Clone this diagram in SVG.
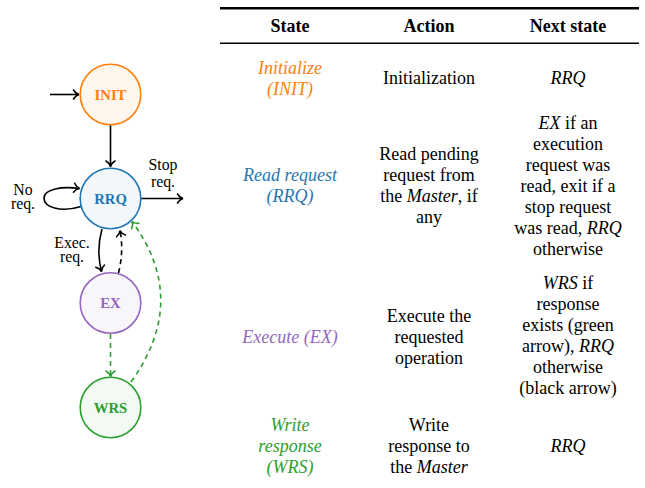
<svg xmlns="http://www.w3.org/2000/svg" width="645" height="488" viewBox="0 0 645 488" font-family="Liberation Serif">
<style>
.t{font-size:18px;text-anchor:middle}
.h{font-size:18px;font-weight:bold;text-anchor:middle}
.e{font-size:15.8px;text-anchor:middle}
.n{font-size:14.7px;font-weight:bold;text-anchor:middle}
.i{font-style:italic}
.ln{fill:none;stroke:#000;stroke-width:1.6}
.gr{fill:none;stroke:#2ca02c;stroke-width:1.6;stroke-dasharray:5 4}
.bd{fill:none;stroke:#000;stroke-width:1.6;stroke-dasharray:5 4}
</style>
<defs>
<marker id="ak" markerUnits="userSpaceOnUse" orient="auto" refX="0" refY="0" markerWidth="12" markerHeight="12" overflow="visible">
<path d="M-5.5,-4.5 C-3.8,-1.6 -1.6,-0.4 0,0 C-1.6,0.4 -3.8,1.6 -5.5,4.5" fill="none" stroke="#000" stroke-width="1.6" stroke-linecap="round"/>
</marker>
<marker id="ag" markerUnits="userSpaceOnUse" orient="auto" refX="0" refY="0" markerWidth="12" markerHeight="12" overflow="visible">
<path d="M-5.5,-4.5 C-3.8,-1.6 -1.6,-0.4 0,0 C-1.6,0.4 -3.8,1.6 -5.5,4.5" fill="none" stroke="#2ca02c" stroke-width="1.6" stroke-linecap="round"/>
</marker>
</defs>

<g id="connectors" font-family="Liberation Serif">
<line class="ln" x1="50" y1="94.5" x2="79" y2="94.5" marker-end="url(#ak)"/>
<line class="ln" x1="110.5" y1="125" x2="110.5" y2="166.5" marker-end="url(#ak)"/>
<line class="ln" x1="141" y1="198.5" x2="183" y2="198.5" marker-end="url(#ak)"/>
<path class="ln" d="M81,206.5 C60,213 44,207 44,198 C44,189 62,186 79.5,188.5" marker-end="url(#ak)"/>
<path class="ln" d="M102,229 Q96,250 101.5,271.5" marker-end="url(#ak)"/>
<path class="bd" d="M118.5,273 Q124,251 120,230.5" marker-end="url(#ak)"/>
<line class="gr" x1="110.5" y1="334" x2="110.5" y2="376.5" marker-end="url(#ag)"/>
<path class="gr" d="M131,382 Q190,300 132,221.5" marker-end="url(#ag)"/>
<text class="e" x="163" y="169.5">Stop</text>
<text class="e" x="163" y="187">req.</text>
<text class="e" x="23" y="194.5">No</text>
<text class="e" x="23" y="208.5">req.</text>
<text class="e" x="72" y="247.5">Exec.</text>
<text class="e" x="72" y="261.5">req.</text>
</g>

<g id="node-init" font-family="Liberation Serif">
<circle cx="110.5" cy="94.5" r="30.3" fill="#fff6ee" stroke="#ff7f0e" stroke-width="1.6"/>
<text class="n" x="110.5" y="99.7" fill="#ff7f0e">INIT</text>
</g>
<g id="node-rrq" font-family="Liberation Serif">
<circle cx="110.5" cy="198.5" r="30.3" fill="#f2f7fb" stroke="#1f77b4" stroke-width="1.6"/>
<text class="n" x="110.5" y="203.7" fill="#1f77b4">RRQ</text>
</g>
<g id="node-ex" font-family="Liberation Serif">
<circle cx="110.5" cy="303" r="30.3" fill="#f8f5fb" stroke="#9467bd" stroke-width="1.6"/>
<text class="n" x="110.5" y="308.2" fill="#9467bd">EX</text>
</g>
<g id="node-wrs" font-family="Liberation Serif">
<circle cx="110.5" cy="407.5" r="30.3" fill="#f3faf3" stroke="#2ca02c" stroke-width="1.6"/>
<text class="n" x="110.5" y="412.7" fill="#2ca02c">WRS</text>
</g>

<g id="table" font-family="Liberation Serif">
<line x1="220" y1="8.3" x2="639" y2="8.3" stroke="#000" stroke-width="2.4"/>
<line x1="220" y1="43.3" x2="639" y2="43.3" stroke="#000" stroke-width="1.5"/>
<text class="h" x="290" y="32">State</text>
<text class="h" x="429" y="32">Action</text>
<text class="h" x="568" y="32">Next state</text>

<text class="t i" x="290" y="73.5" fill="#ff7f0e">Initialize</text>
<text class="t i" x="290" y="94.5" fill="#ff7f0e">(INIT)</text>
<text class="t" x="429" y="83.5">Initialization</text>
<text class="t i" x="568" y="83.5">RRQ</text>

<text class="t i" x="290" y="181" fill="#1f77b4">Read request</text>
<text class="t i" x="290" y="202" fill="#1f77b4">(RRQ)</text>
<text class="t" x="429" y="160">Read pending</text>
<text class="t" x="429" y="181">request from</text>
<text class="t" x="429" y="202">the <tspan class="i">Master</tspan>, if</text>
<text class="t" x="429" y="223">any</text>
<text class="t" x="568" y="128.5"><tspan class="i">EX</tspan> if an</text>
<text class="t" x="568" y="149.5">execution</text>
<text class="t" x="568" y="170.5">request was</text>
<text class="t" x="568" y="191.5">read, exit if a</text>
<text class="t" x="568" y="212.5">stop request</text>
<text class="t" x="568" y="233.5">was read, <tspan class="i">RRQ</tspan></text>
<text class="t" x="568" y="254.5">otherwise</text>

<text class="t i" x="290" y="342.5" fill="#9467bd">Execute (EX)</text>
<text class="t" x="429" y="321.5">Execute the</text>
<text class="t" x="429" y="342.5">requested</text>
<text class="t" x="429" y="363.5">operation</text>
<text class="t" x="568" y="289"><tspan class="i">WRS</tspan> if</text>
<text class="t" x="568" y="310">response</text>
<text class="t" x="568" y="331">exists (green</text>
<text class="t" x="568" y="352">arrow), <tspan class="i">RRQ</tspan></text>
<text class="t" x="568" y="373">otherwise</text>
<text class="t" x="568" y="394">(black arrow)</text>

<text class="t i" x="290" y="430.5" fill="#2ca02c">Write</text>
<text class="t i" x="290" y="451.5" fill="#2ca02c">response</text>
<text class="t i" x="290" y="472.5" fill="#2ca02c">(WRS)</text>
<text class="t" x="429" y="430.5">Write</text>
<text class="t" x="429" y="451.5">response to</text>
<text class="t" x="429" y="472.5">the <tspan class="i">Master</tspan></text>
<text class="t i" x="568" y="451.5">RRQ</text>
</g>
</svg>
